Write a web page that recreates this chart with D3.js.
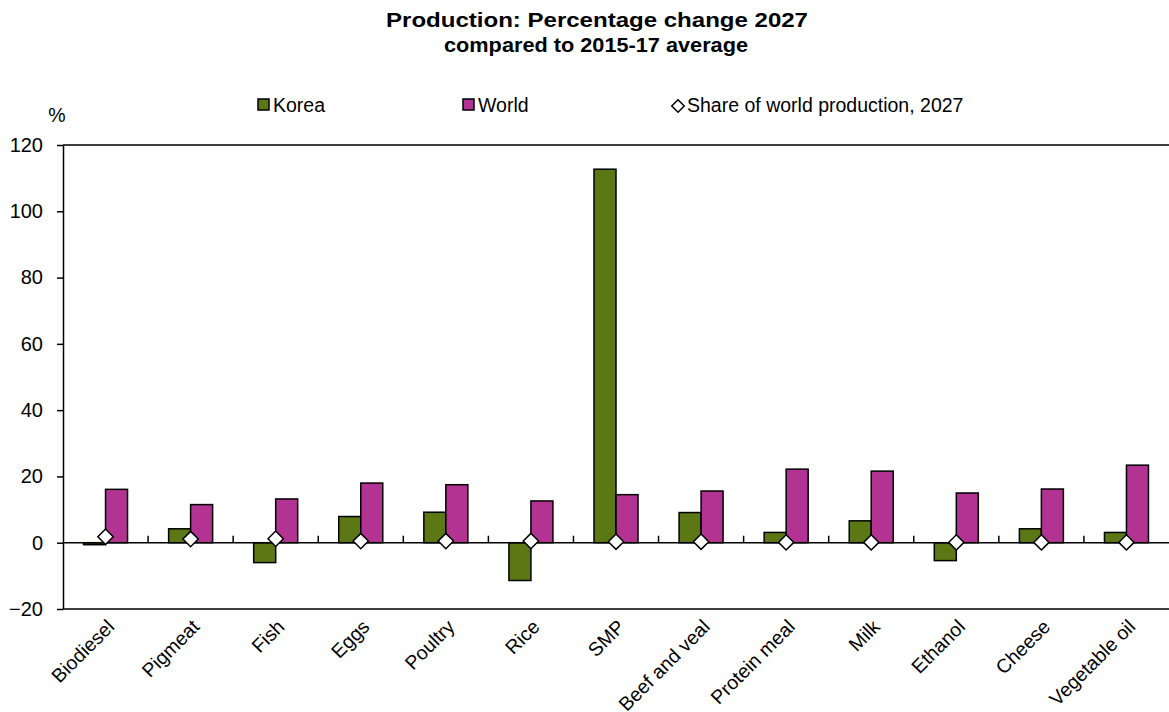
<!DOCTYPE html>
<html>
<head>
<meta charset="utf-8">
<script src="https://cdn.jsdelivr.net/npm/d3@7"></script>
<style>
body { margin: 0; background: #fff; }
text { font-family: "Liberation Sans", Arial, sans-serif; }
</style>
</head>
<body>
<div id="chart"></div>
<script>
var categories = ["Biodiesel", "Pigmeat", "Fish", "Eggs", "Poultry", "Rice", "SMP",
    "Beef and veal", "Protein meal", "Milk", "Ethanol", "Cheese", "Vegetable oil"];
var korea = [-0.6, 4.2, -6.0, 7.9, 9.2, -11.4, 112.7, 9.1, 3.1, 6.6, -5.4, 4.2, 3.1];
var world = [16.1, 11.5, 13.2, 18.0, 17.5, 12.6, 14.5, 15.6, 22.2, 21.6, 15.0, 16.2, 23.4];
var share = [1.8, 1.1, 1.2, 0.5, 0.5, 0.5, 0.3, 0.3, 0.1, 0.1, 0.1, 0.1, 0.1];
var yTicks = [-20, 0, 20, 40, 60, 80, 100, 120];

init();

function init() {
    var w = 1169, h = 712;
    var svg = d3.select("#chart").append("svg")
        .attr("width", w)
        .attr("height", h);

    var left = 63, right = 1169, top = 145, bottom = 609;
    var green = "#5b7814", pink = "#b33393";

    var x = d3.scaleBand().domain(categories).range([left, right]);
    var y = d3.scaleLinear().domain([-20, 120]).range([bottom, top]);
    var bw = 22;

    // title
    svg.append("text")
        .attr("x", 597).attr("y", 27)
        .attr("text-anchor", "middle")
        .attr("textLength", 422)
        .attr("lengthAdjust", "spacingAndGlyphs")
        .style("font", "bold 21px 'Liberation Sans', Arial")
        .text("Production: Percentage change 2027");
    svg.append("text")
        .attr("x", 596).attr("y", 52)
        .attr("text-anchor", "middle")
        .attr("textLength", 304)
        .attr("lengthAdjust", "spacingAndGlyphs")
        .style("font", "bold 21px 'Liberation Sans', Arial")
        .text("compared to 2015-17 average");

    // frame
    svg.append("line")
        .attr("x1", left).attr("x2", right).attr("y1", top).attr("y2", top)
        .attr("stroke", "black").attr("stroke-width", 1.5);
    svg.append("line")
        .attr("x1", left).attr("x2", right).attr("y1", bottom).attr("y2", bottom)
        .attr("stroke", "black").attr("stroke-width", 1.5);

    // y axis
    var yAxis = d3.axisLeft(y).tickValues(yTicks).tickSize(6).tickSizeOuter(0);
    var ya = svg.append("g")
        .attr("transform", "translate(" + left + ",0)")
        .call(yAxis);
    ya.select(".domain").attr("stroke-width", 1.5);
    ya.selectAll(".tick line").attr("stroke-width", 1.5);
    ya.selectAll(".tick text")
        .attr("x", -20)
        .style("font-family", "'Liberation Sans', Arial")
        .style("font-size", "20px")
        .attr("fill", "black");

    svg.append("text")
        .attr("x", 57).attr("y", 122)
        .attr("text-anchor", "middle")
        .style("font-size", "19.5px")
        .text("%");

    // bars
    svg.selectAll(".korea")
        .data(korea)
        .enter()
        .append("rect")
        .attr("class", "korea")
        .attr("x", function(d, i) { return x(categories[i]) + x.bandwidth() / 2 - bw; })
        .attr("y", function(d) { return y(Math.max(0, d)); })
        .attr("width", bw)
        .attr("height", function(d) { return Math.abs(y(d) - y(0)); })
        .attr("fill", green)
        .attr("stroke", "black")
        .attr("stroke-width", 1.5);

    svg.selectAll(".world")
        .data(world)
        .enter()
        .append("rect")
        .attr("class", "world")
        .attr("x", function(d, i) { return x(categories[i]) + x.bandwidth() / 2; })
        .attr("y", function(d) { return y(Math.max(0, d)); })
        .attr("width", bw)
        .attr("height", function(d) { return Math.abs(y(d) - y(0)); })
        .attr("fill", pink)
        .attr("stroke", "black")
        .attr("stroke-width", 1.5);

    // zero line with category ticks
    svg.append("line")
        .attr("x1", left).attr("x2", right).attr("y1", y(0)).attr("y2", y(0))
        .attr("stroke", "black").attr("stroke-width", 1.5);
    svg.selectAll(".ctick")
        .data(categories.slice(1))
        .enter()
        .append("line")
        .attr("x1", function(d) { return x(d); })
        .attr("x2", function(d) { return x(d); })
        .attr("y1", y(0))
        .attr("y2", y(0) - 7)
        .attr("stroke", "black")
        .attr("stroke-width", 1.5);

    // share diamonds
    var diamond = d3.symbol().type(d3.symbolDiamond2).size(150);
    svg.selectAll(".share")
        .data(share)
        .enter()
        .append("path")
        .attr("class", "share")
        .attr("d", diamond)
        .attr("transform", function(d, i) {
            return "translate(" + (x(categories[i]) + x.bandwidth() / 2) + "," + y(d) + ")";
        })
        .attr("fill", "white")
        .attr("stroke", "black")
        .attr("stroke-width", 1.5);

    // category labels
    svg.selectAll(".clabel")
        .data(categories)
        .enter()
        .append("text")
        .attr("class", "clabel")
        .attr("text-anchor", "end")
        .style("font-size", "19.5px")
        .attr("transform", function(d) {
            return "translate(" + (x(d) + x.bandwidth() / 2 + 10) + "," + 628 + ") rotate(-45)";
        })
        .text(function(d) { return d; });

    // legend
    var legend = [
        {label: "Korea", color: green, x: 258},
        {label: "World", color: pink, x: 463}
    ];
    var lg = svg.selectAll(".leg")
        .data(legend)
        .enter()
        .append("g")
        .attr("class", "leg");
    lg.append("rect")
        .attr("x", function(d) { return d.x; })
        .attr("y", 99)
        .attr("width", 11).attr("height", 11)
        .attr("fill", function(d) { return d.color; })
        .attr("stroke", "black")
        .attr("stroke-width", 1.5);
    lg.append("text")
        .attr("x", function(d) { return d.x + 15; })
        .attr("y", 112)
        .style("font-size", "19.5px")
        .text(function(d) { return d.label; });

    svg.append("path")
        .attr("d", d3.symbol().type(d3.symbolDiamond2).size(100))
        .attr("transform", "translate(678,106)")
        .attr("fill", "white")
        .attr("stroke", "black")
        .attr("stroke-width", 1.5);
    svg.append("text")
        .attr("x", 687).attr("y", 112)
        .style("font-size", "19.5px")
        .text("Share of world production, 2027");
}
</script>
</body>
</html>
